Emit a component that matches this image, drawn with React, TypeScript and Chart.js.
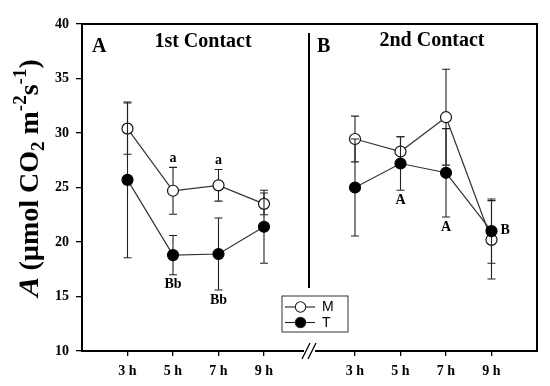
import React, { useEffect, useRef } from 'react';
import { Chart, registerables } from 'chart.js';

Chart.register(...registerables);

// ---- data ----
const hours = ['3 h', '5 h', '7 h', '9 h'];
const panelTitles = ['1st Contact', '2nd Contact'];
const panelLetters = ['A', 'B'];
const seriesNames = ['M', 'T'];

const mFirst = [30.4, 24.7, 25.2, 23.5];
const mFirstErr = [2.35, 2.15, 1.45, 1.0];
const tFirst = [25.7, 18.8, 18.9, 21.4];
const tFirstErr = [7.15, 1.8, 3.3, 3.35];

const mSecond = [29.45, 28.3, 31.45, 20.2];
const mSecondErr = [2.1, 1.35, 4.4, 3.6];
const tSecond = [25.0, 27.2, 26.35, 21.0];
const tSecondErr = [4.45, 2.45, 4.05, 2.95];

const yMin = 10;
const yMax = 40;
const yStep = 5;

// significance letters: series, panel, hour index, text, placement
const letters = [
  { series: 'M', panel: 0, idx: 1, text: 'a', place: 'above' },
  { series: 'M', panel: 0, idx: 2, text: 'a', place: 'above' },
  { series: 'T', panel: 0, idx: 1, text: 'Bb', place: 'below' },
  { series: 'T', panel: 0, idx: 2, text: 'Bb', place: 'below' },
  { series: 'T', panel: 1, idx: 1, text: 'A', place: 'below' },
  { series: 'T', panel: 1, idx: 2, text: 'A', place: 'below' },
  { series: 'T', panel: 1, idx: 3, text: 'B', place: 'right' },
];

// ---- helpers ----
const SERIF = '"Liberation Serif", "Times New Roman", serif';
const SANS = '"Liberation Sans", Arial, sans-serif';
const panelStart = [1, 6];
const gapX = 5;

function buildSeries(first: number[], second: number[]) {
  return [
    ...first.map((y, i) => ({ x: panelStart[0] + i, y })),
    { x: gapX, y: null as any },
    ...second.map((y, i) => ({ x: panelStart[1] + i, y })),
  ];
}
function buildErr(first: number[], second: number[]) {
  return [...first, 0, ...second];
}

const mData = buildSeries(mFirst, mSecond);
const tData = buildSeries(tFirst, tSecond);
const errs = [buildErr(mFirstErr, mSecondErr), buildErr(tFirstErr, tSecondErr)];
const tickPositions = [...hours.map((_, i) => panelStart[0] + i), ...hours.map((_, i) => panelStart[1] + i)];

const errorBarPlugin = {
  id: 'errorBars',
  beforeDatasetDraw(chart: any, args: any) {
    const ctx = chart.ctx;
    const ds = chart.data.datasets[args.index];
    const e = errs[args.index];
    const xs = chart.scales.x;
    const ys = chart.scales.y;
    ctx.save();
    ctx.strokeStyle = '#222';
    ctx.lineWidth = 1.1;
    ds.data.forEach((p: any, i: number) => {
      if (p.y == null) return;
      const x = xs.getPixelForValue(p.x);
      const yt = ys.getPixelForValue(p.y + e[i]);
      const yb = ys.getPixelForValue(p.y - e[i]);
      ctx.beginPath();
      ctx.moveTo(x, yt);
      ctx.lineTo(x, yb);
      ctx.moveTo(x - 4, yt);
      ctx.lineTo(x + 4, yt);
      ctx.moveTo(x - 4, yb);
      ctx.lineTo(x + 4, yb);
      ctx.stroke();
    });
    ctx.restore();
  },
};

const decorPlugin = {
  id: 'decor',
  afterDraw(chart: any) {
    const ctx = chart.ctx;
    const a = chart.chartArea;
    const xs = chart.scales.x;
    const ys = chart.scales.y;
    ctx.save();
    // frame
    ctx.strokeStyle = '#000';
    ctx.lineWidth = 2;
    const breakX = xs.getPixelForValue(gapX) - 0.5;
    ctx.beginPath();
    ctx.moveTo(a.left, a.bottom + 1);
    ctx.lineTo(a.left, a.top);
    ctx.lineTo(a.right, a.top);
    ctx.lineTo(a.right, a.bottom);
    ctx.lineTo(breakX + 6, a.bottom);
    ctx.moveTo(breakX - 5, a.bottom);
    ctx.lineTo(a.left - 1, a.bottom);
    ctx.stroke();
    // divider
    ctx.beginPath();
    ctx.moveTo(breakX, a.top + 9);
    ctx.lineTo(breakX, a.top + 264);
    ctx.stroke();
    // axis break //
    ctx.lineWidth = 1.3;
    ctx.beginPath();
    [-3, 3].forEach((d) => {
      ctx.moveTo(breakX + d - 4, a.bottom + 8);
      ctx.lineTo(breakX + d + 4, a.bottom - 8);
    });
    ctx.stroke();

    // panel titles
    ctx.fillStyle = '#000';
    ctx.textBaseline = 'alphabetic';
    ctx.font = `bold 20px ${SERIF}`;
    ctx.textAlign = 'left';
    ctx.fillText(panelLetters[0], a.left + 10, a.top + 28);
    ctx.fillText(panelLetters[1], breakX + 8, a.top + 28);
    ctx.textAlign = 'center';
    ctx.fillText(panelTitles[0], a.left + 121, a.top + 23);
    ctx.fillText(panelTitles[1], breakX + 123, a.top + 22);

    // significance letters
    ctx.font = `bold 14px ${SERIF}`;
    ctx.textBaseline = 'middle';
    letters.forEach((l) => {
      const si = seriesNames.indexOf(l.series);
      const data = si === 0 ? mData : tData;
      const k = l.panel === 0 ? l.idx : l.idx + hours.length + 1;
      const p = data[k];
      const x = xs.getPixelForValue(p.x);
      if (l.place === 'above') {
        ctx.textAlign = 'center';
        ctx.fillText(l.text, x, ys.getPixelForValue(p.y + errs[si][k]) - 9);
      } else if (l.place === 'below') {
        ctx.textAlign = 'center';
        ctx.fillText(l.text, x, ys.getPixelForValue(p.y - errs[si][k]) + 10);
      } else {
        ctx.textAlign = 'left';
        ctx.fillText(l.text, x + 9, ys.getPixelForValue(p.y) - 1);
      }
    });

    // legend
    const lx = breakX - 27;
    const ly = a.bottom - 55;
    ctx.strokeStyle = '#333';
    ctx.lineWidth = 1;
    ctx.strokeRect(lx, ly, 66, 36);
    seriesNames.forEach((name, i) => {
      const cy = ly + 11 + i * 15.5;
      ctx.strokeStyle = '#222';
      ctx.lineWidth = 1.1;
      ctx.beginPath();
      ctx.moveTo(lx + 3, cy);
      ctx.lineTo(lx + 33, cy);
      ctx.stroke();
      ctx.beginPath();
      ctx.arc(lx + 18.5, cy, 5.2, 0, Math.PI * 2);
      ctx.fillStyle = i === 0 ? '#fff' : '#000';
      ctx.fill();
      ctx.stroke();
      ctx.fillStyle = '#000';
      ctx.font = `14px ${SANS}`;
      ctx.textAlign = 'left';
      ctx.textBaseline = 'middle';
      ctx.fillText(name, lx + 40, cy + 0.5);
    });

    // y-axis title with sub/superscripts
    const parts = [
      { t: 'A', f: `bold 28px ${SERIF}`, dy: 0, slant: true },
      { t: ' (µmol CO', f: `bold 28px ${SERIF}`, dy: 0 },
      { t: '2', f: `bold 19px ${SERIF}`, dy: 6 },
      { t: ' m', f: `bold 28px ${SERIF}`, dy: 0 },
      { t: '-2', f: `bold 19px ${SERIF}`, dy: -12 },
      { t: 's', f: `bold 28px ${SERIF}`, dy: 0 },
      { t: '-1', f: `bold 19px ${SERIF}`, dy: -12 },
      { t: ')', f: `bold 28px ${SERIF}`, dy: 0 },
    ];
    let total = 0;
    const widths = parts.map((p) => {
      ctx.font = p.f;
      const w = ctx.measureText(p.t).width;
      total += w;
      return w;
    });
    const cx = 38;
    const cyc = (a.top + a.bottom) / 2 - 9;
    ctx.translate(cx, cyc + total / 2);
    ctx.rotate(-Math.PI / 2);
    ctx.textAlign = 'left';
    ctx.textBaseline = 'alphabetic';
    let xpos = 0;
    parts.forEach((p: any, i) => {
      ctx.font = p.f;
      if (p.slant) {
        ctx.save();
        ctx.translate(xpos, p.dy);
        ctx.transform(1, 0, -0.25, 1, 0, 0);
        ctx.fillText(p.t, -1, 0);
        ctx.restore();
      } else {
        ctx.fillText(p.t, xpos, p.dy);
      }
      xpos += widths[i];
    });
    ctx.restore();
  },
};

export default function App() {
  const ref = useRef<HTMLCanvasElement | null>(null);
  useEffect(() => {
    if (!ref.current) return;
    const chart = new Chart(ref.current, {
      type: 'line',
      data: {
        datasets: [
          {
            label: seriesNames[0],
            data: mData,
            order: 2,
            borderColor: '#333',
            borderWidth: 1.2,
            pointRadius: 5.5,
            pointBorderWidth: 1.2,
            pointBorderColor: '#111',
            pointBackgroundColor: '#fff',
            spanGaps: false,
            tension: 0,
          },
          {
            label: seriesNames[1],
            data: tData,
            order: 1,
            borderColor: '#333',
            borderWidth: 1.2,
            pointRadius: 5.5,
            pointBorderWidth: 1.2,
            pointBorderColor: '#000',
            pointBackgroundColor: '#000',
            spanGaps: false,
            tension: 0,
          },
        ],
      },
      options: {
        animation: false,
        responsive: false,
        events: [],
        layout: { padding: { left: 0, right: 13, top: 24, bottom: 0 } },
        plugins: { legend: { display: false }, tooltip: { enabled: false } },
        scales: {
          x: {
            type: 'linear',
            min: 0,
            max: 10,
            afterBuildTicks: (s: any) => {
              s.ticks = tickPositions.map((v) => ({ value: v }));
            },
            afterFit: (s: any) => {
              s.height = 35;
            },
            ticks: {
              autoSkip: false,
              maxRotation: 0,
              padding: 7,
              color: '#000',
              font: { family: SERIF, size: 14, weight: 'bold' },
              callback: (v: any) => {
                const n = Number(v);
                if (n >= panelStart[1]) return hours[n - panelStart[1]];
                return hours[n - panelStart[0]];
              },
            },
            grid: { drawOnChartArea: false, drawTicks: true, tickLength: 5, color: '#000', lineWidth: 1.3 },
            border: { display: false },
          },
          y: {
            min: yMin,
            max: yMax,
            afterFit: (s: any) => {
              s.width = 82;
            },
            ticks: {
              stepSize: yStep,
              padding: 7,
              color: '#000',
              font: { family: SERIF, size: 14, weight: 'bold' },
            },
            grid: { drawOnChartArea: false, drawTicks: true, tickLength: 6, color: '#000', lineWidth: 1.3 },
            border: { display: false },
          },
        },
      } as any,
      plugins: [errorBarPlugin, decorPlugin],
    });
    return () => chart.destroy();
  }, []);
  return (
    <div style={{ position: 'fixed', left: 0, top: 0, width: 550, height: 386, background: '#fff' }}>
      <canvas ref={ref} width={550} height={386} style={{ display: 'block' }} />
    </div>
  );
}
